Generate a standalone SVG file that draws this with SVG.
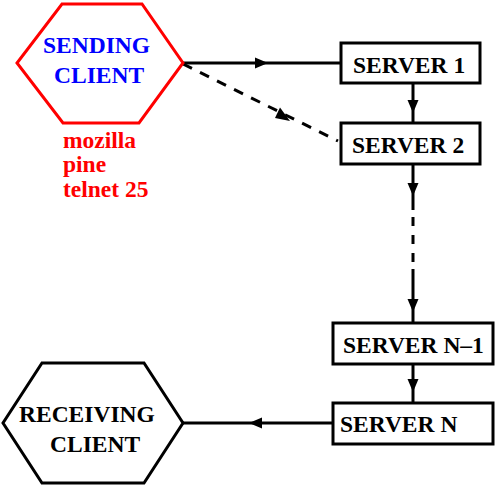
<svg xmlns="http://www.w3.org/2000/svg" width="496" height="486" viewBox="0 0 496 486">
<style>
text{font-family:"Liberation Serif","Times New Roman",serif;font-weight:bold;font-size:23.5px;fill:#000}
.box{fill:#fff;stroke:#000;stroke-width:3}
.hex{fill:#fff;stroke-width:3;stroke-linejoin:miter}
.ln{fill:none;stroke:#000;stroke-width:3}
.dash{stroke-dasharray:10 9}
.vdash{stroke-dasharray:9 9}
.head{fill:#000;stroke:none}
</style>
<rect width="496" height="486" fill="#fff"/>
<g id="connectors">
<line class="ln" x1="183" y1="63" x2="341" y2="63"/>
<polygon class="head" points="268,63 255,57.5 255,68.5"/>
<line class="ln dash" x1="183" y1="64" x2="338" y2="141"/>
<polygon class="head" points="290,121 275,118 280,107.5"/>
<line class="ln" x1="413" y1="83" x2="413" y2="123"/>
<polygon class="head" points="413,113 407.5,100 418.5,100"/>
<line class="ln" x1="413" y1="164" x2="413" y2="210"/>
<polygon class="head" points="413,196 407.5,183 418.5,183"/>
<line class="ln vdash" x1="413" y1="217" x2="413" y2="262"/>
<line class="ln" x1="413" y1="269" x2="413" y2="323"/>
<polygon class="head" points="413,312 407.5,299 418.5,299"/>
<line class="ln" x1="413" y1="364" x2="413" y2="403"/>
<polygon class="head" points="413,392 407.5,379 418.5,379"/>
<line class="ln" x1="183" y1="423" x2="333" y2="423"/>
<polygon class="head" points="249,423 262,417.5 262,428.5"/>
</g>
<g id="sending-client">
<polygon class="hex" stroke="#ff0000" points="62,4 142,4 183,63 139,123 63,123 17,63"/>
<text x="43" y="53" style="fill:#0000ff">SENDING</text>
<text x="54" y="83" style="fill:#0000ff">CLIENT</text>
</g>
<g id="client-programs">
<text x="63" y="148" style="fill:#ff0000">mozilla</text>
<text x="63" y="172" style="fill:#ff0000">pine</text>
<text x="63" y="197" style="fill:#ff0000">telnet 25</text>
</g>
<g id="server-1">
<rect class="box" x="341" y="43" width="139" height="40"/>
<text x="353" y="73">SERVER 1</text>
</g>
<g id="server-2">
<rect class="box" x="341" y="123" width="139" height="41"/>
<text x="352" y="153">SERVER 2</text>
</g>
<g id="server-n-1">
<rect class="box" x="333" y="323" width="160" height="41"/>
<text x="343" y="353">SERVER N–1</text>
</g>
<g id="server-n">
<rect class="box" x="333" y="403" width="160" height="41"/>
<text x="340" y="432">SERVER N</text>
</g>
<g id="receiving-client">
<polygon class="hex" stroke="#000" points="42,363 144,363 183,423 144,483 42,483 3,423"/>
<text x="19" y="422">RECEIVING</text>
<text x="50" y="452">CLIENT</text>
</g>
</svg>
